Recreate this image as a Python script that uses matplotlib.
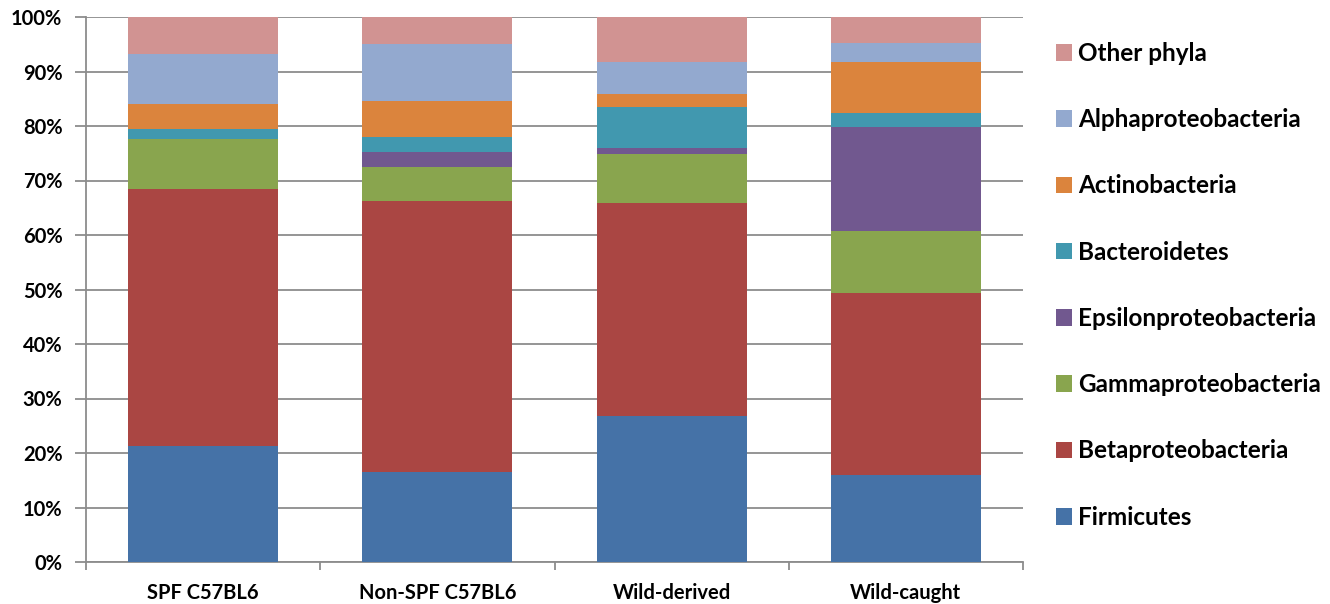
import matplotlib.pyplot as plt
import numpy as np

# grupos de camundongos
grupos = ['SPF C57BL6', 'Non-SPF C57BL6', 'Wild-derived', 'Wild-caught']

# percentuais por filo (de baixo para cima)
firmicutes = [21.2, 16.6, 26.7, 16.0]
beta = [47.2, 49.6, 39.2, 33.3]
gamma = [9.2, 6.2, 9.0, 11.4]
epsilon = [0.0, 2.8, 1.0, 19.1]
bacteroidetes = [1.8, 2.7, 7.5, 2.5]
actino = [4.6, 6.7, 2.5, 9.4]
alpha = [9.3, 10.4, 5.8, 3.6]
outros = [6.7, 5.0, 8.3, 4.7]

nomes = ['Firmicutes', 'Betaproteobacteria', 'Gammaproteobacteria',
         'Epsilonproteobacteria', 'Bacteroidetes', 'Actinobacteria',
         'Alphaproteobacteria', 'Other phyla']
cores = ['#4572A7', '#AA4643', '#89A54E', '#71588F',
         '#4198AF', '#DB843D', '#93A9CF', '#D19392']

series = [firmicutes, beta, gamma, epsilon, bacteroidetes, actino, alpha, outros]

plt.rcParams['font.family'] = ['Lato', 'DejaVu Sans']
plt.rcParams['font.weight'] = 'bold'

fig = plt.figure(figsize=(13.3, 6.04), dpi=100)
ax = fig.add_axes([86 / 1330, 42 / 604, (1023 - 86) / 1330, 545 / 604])

x = np.arange(len(grupos))
base = np.zeros(len(grupos))
handles = []
for vals, nome, cor in zip(series, nomes, cores):
    vals = np.array(vals)
    h = ax.bar(x, vals, width=0.64, bottom=base, color=cor, label=nome, zorder=3)
    handles.append(h)
    base = base + vals

ax.set_xlim(-0.5, 3.5)
ax.set_ylim(0, 100)
ax.set_yticks(np.arange(0, 101, 10))
ax.set_yticklabels([f'{v}%' for v in range(0, 101, 10)], fontsize=14.5, fontweight='bold')
ax.yaxis.grid(True, color='#8c8c8c', lw=1.3, zorder=0)

ax.set_xticks(x)
ax.set_xticklabels(grupos, fontsize=14.5, fontweight='bold')
ax.tick_params(axis='x', length=0, pad=15)
ax.set_xticks(np.arange(-0.5, 4, 1), minor=True)
ax.tick_params(axis='x', which='minor', length=6, color='#8c8c8c', width=1.3)
ax.tick_params(axis='y', length=8, color='#8c8c8c', width=1.3, pad=9)

for s in ['top', 'right']:
    ax.spines[s].set_visible(False)
for s in ['left', 'bottom']:
    ax.spines[s].set_color('#8c8c8c')
    ax.spines[s].set_linewidth(1.3)

leg = fig.legend(handles[::-1], nomes[::-1], loc='upper left',
                 bbox_to_anchor=(1034 / 1330, 1 - 20 / 604), frameon=False,
                 prop={'size': 17.5, 'weight': 'bold'}, handlelength=0.68,
                 handleheight=0.68, handletextpad=0.25, labelspacing=1.78)

fig.savefig('out.png', dpi=100)
